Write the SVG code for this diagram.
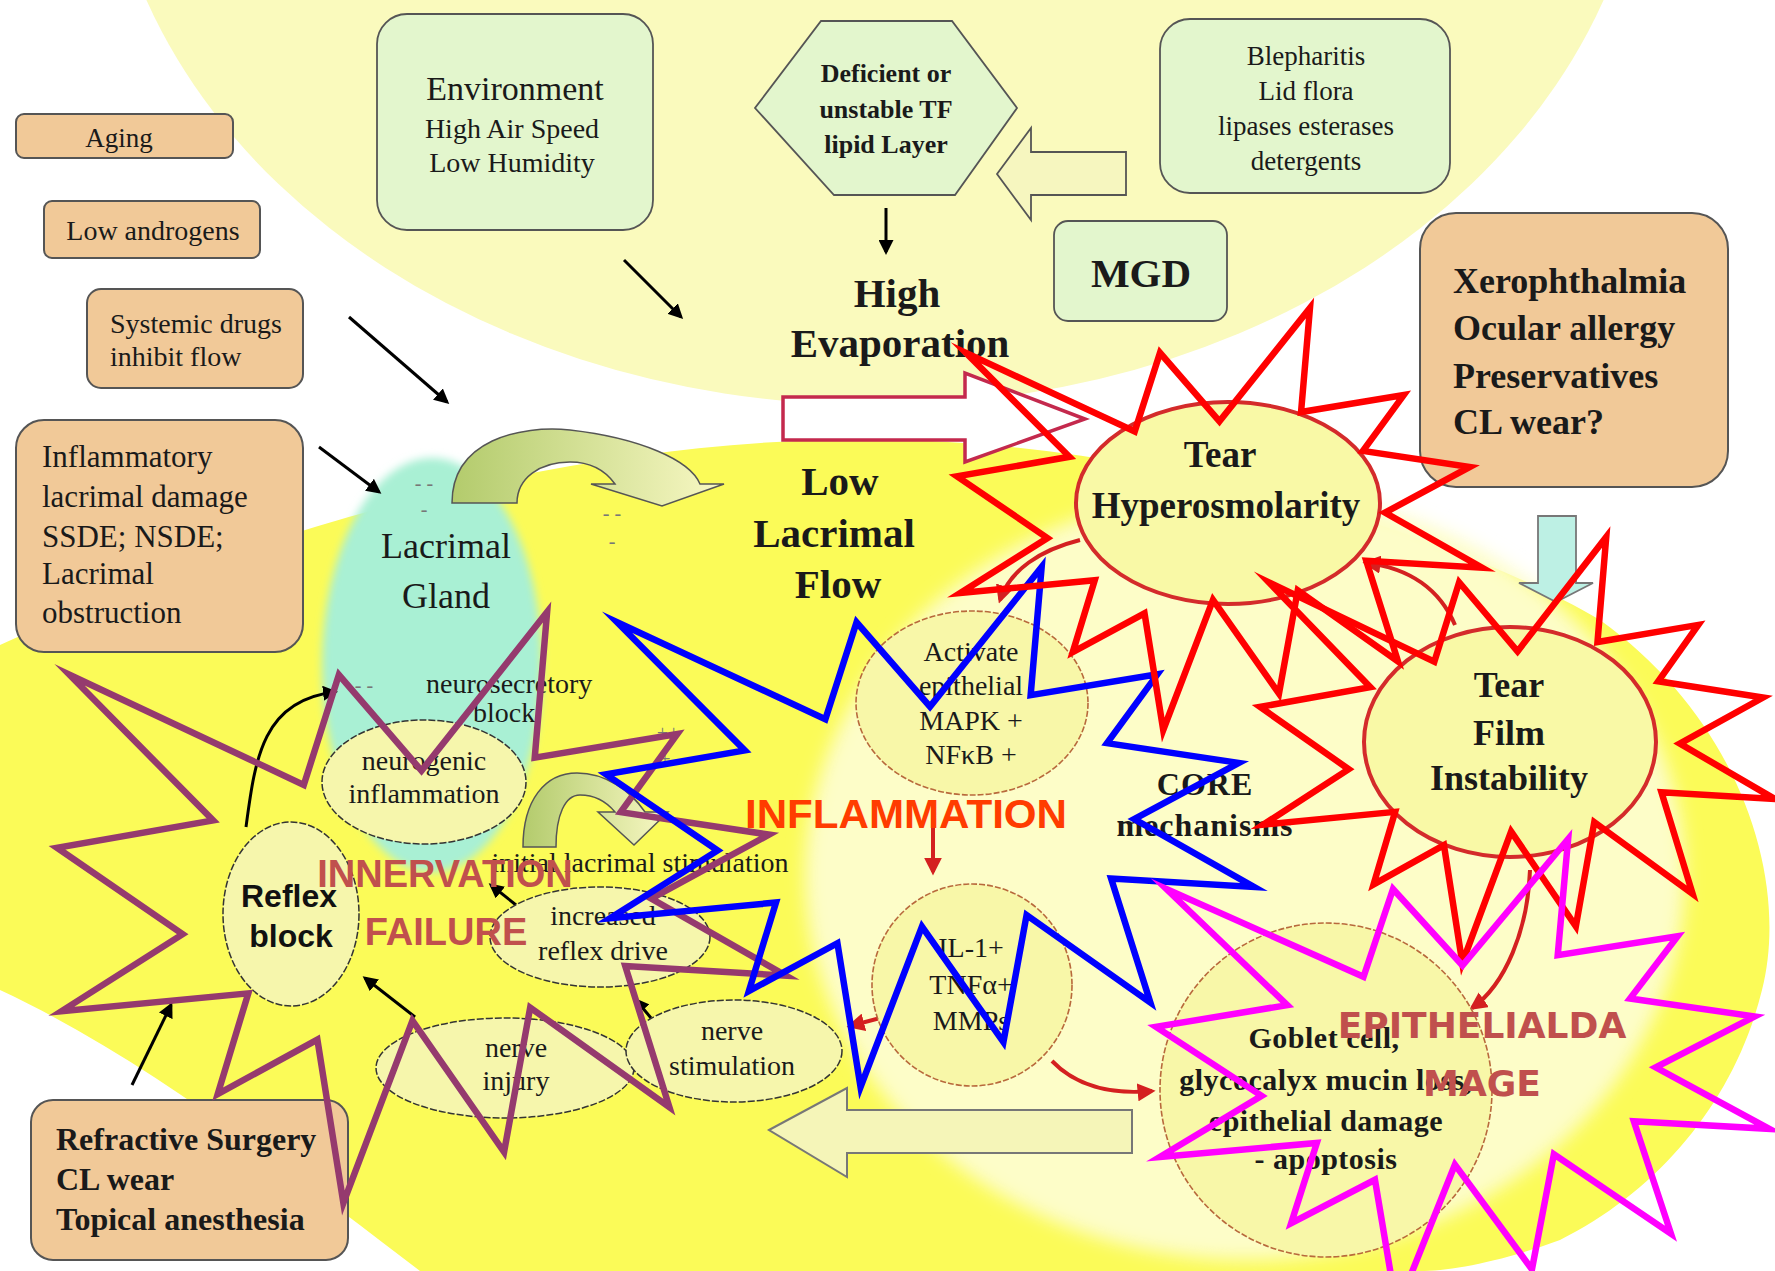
<svg xmlns="http://www.w3.org/2000/svg" xmlns:xlink="http://www.w3.org/1999/xlink" width="1775" height="1271" viewBox="0 0 1775 1271">
<style>
.serif{font-family:"Liberation Serif","Times New Roman",serif;fill:#1a1a1a}
.b{font-weight:bold}
.tan{fill:#f1c998;stroke:#555;stroke-width:2}
.grn{fill:#e3f6cd;stroke:#555;stroke-width:1.8}
.ell{fill:#f6f6ac;stroke:#333;stroke-width:1.5;stroke-dasharray:7 2}
.cell{fill:#f8f7a8;stroke:#b8693c;stroke-width:1.6;stroke-dasharray:6 2}
.tear{fill:#f9f9a6;stroke:#d42b2b;stroke-width:4}
.blk{stroke:#000;stroke-width:3;fill:none}
.red{stroke:#d42020;stroke-width:4;fill:none}
.star{fill:none;stroke-width:6.5;stroke-miterlimit:12;stroke-linejoin:miter}
.dash{font-family:"Liberation Serif",serif;font-size:20px;fill:#777}
.ovl{font-family:"Liberation Sans",Arial,sans-serif;font-weight:bold}
</style>
<defs>
<path id="seal" vector-effect="non-scaling-stroke" d="M10800,5800 L14522,0 L14155,5325 L18380,4457 L16702,7315 L21097,8137 L17607,10475 L21600,13290 L16837,12942 L18145,18095 L14020,14457 L13247,19737 L10532,14935 L8485,21600 L7715,15627 L4762,17617 L5667,13937 L135,14587 L3722,11775 L0,8615 L4627,7617 L370,2295 L7312,6320 L8352,2295 Z"/>
<marker id="ab" viewBox="0 0 10 10" refX="8" refY="5" markerWidth="5" markerHeight="5" orient="auto"><path d="M0,0 L10,5 L0,10 z" fill="#000"/></marker>
<marker id="ar" viewBox="0 0 10 10" refX="8" refY="5" markerWidth="4.5" markerHeight="4.5" orient="auto"><path d="M0,0 L10,5 L0,10 z" fill="#d42020"/></marker>
<linearGradient id="gg" x1="0" y1="0" x2="1" y2="0"><stop offset="0" stop-color="#b3cb6c"/><stop offset="1" stop-color="#f8f8c4"/></linearGradient>
<filter id="soft" x="-20%" y="-20%" width="140%" height="140%"><feGaussianBlur stdDeviation="9"/></filter>
<filter id="soft2" x="-20%" y="-20%" width="140%" height="140%"><feGaussianBlur stdDeviation="4"/></filter>
</defs>

<g id="background">
<rect width="1775" height="1271" fill="#ffffff"/>
<ellipse cx="875" cy="-200" rx="772" ry="605" fill="#fafabd"/>
<path d="M0,645 C200,555 500,450 820,440 C1100,430 1430,520 1600,620 C1740,720 1790,880 1762,990 C1735,1100 1660,1190 1560,1240 C1500,1262 1450,1271 1420,1271 L420,1271 C300,1180 150,1060 0,990 Z" fill="#fbfb58"/>
<ellipse cx="1245" cy="875" rx="440" ry="385" fill="#fdfdc8" filter="url(#soft)"/>
<ellipse cx="432" cy="665" rx="110" ry="207" fill="#a9f0d4" filter="url(#soft2)"/>
</g>

<g id="aging"><rect class="tan" x="16" y="114" width="217" height="44" rx="8"/><text class="serif" x="119" y="147" font-size="27" text-anchor="middle">Aging</text></g>
<g id="androgens"><rect class="tan" x="44" y="201" width="216" height="57" rx="8"/><text class="serif" x="153" y="240" font-size="28" text-anchor="middle">Low androgens</text></g>
<g id="systemic"><rect class="tan" x="87" y="289" width="216" height="99" rx="14"/><text class="serif" font-size="28"><tspan x="110" y="333">Systemic drugs</tspan><tspan x="110" y="366">inhibit flow</tspan></text></g>
<g id="inflammatory"><rect class="tan" x="16" y="420" width="287" height="232" rx="28"/><text class="serif" font-size="31"><tspan x="42" y="467">Inflammatory</tspan><tspan x="42" y="507">lacrimal damage</tspan><tspan x="42" y="547">SSDE; NSDE;</tspan><tspan x="42" y="584">Lacrimal</tspan><tspan x="42" y="623">obstruction</tspan></text></g>
<g id="environment"><rect class="grn" x="377" y="14" width="276" height="216" rx="30"/><text class="serif" x="515" y="100" font-size="34" text-anchor="middle">Environment</text><text class="serif" font-size="28" text-anchor="middle"><tspan x="512" y="138">High Air Speed</tspan><tspan x="512" y="172">Low Humidity</tspan></text></g>
<g id="lipid"><polygon class="grn" points="821,21 952,21 1017,108 955,195 834,195 755,108"/><text class="serif b" font-size="26" text-anchor="middle"><tspan x="886" y="82">Deficient or</tspan><tspan x="886" y="118">unstable TF</tspan><tspan x="886" y="153">lipid Layer</tspan></text></g>
<g id="blepharitis"><rect class="grn" x="1160" y="19" width="290" height="174" rx="30"/><text class="serif" font-size="27" text-anchor="middle"><tspan x="1306" y="65">Blepharitis</tspan><tspan x="1306" y="100">Lid flora</tspan><tspan x="1306" y="135">lipases esterases</tspan><tspan x="1306" y="170">detergents</tspan></text></g>
<g id="mgd"><rect class="grn" x="1054" y="221" width="173" height="100" rx="14"/><text class="serif b" x="1141" y="287" font-size="41" text-anchor="middle">MGD</text></g>
<g id="evaporation"><text class="serif b" font-size="41" text-anchor="middle"><tspan x="897" y="307">High</tspan><tspan x="900" y="357">Evaporation</tspan></text></g>
<g id="xerophthalmia"><rect class="tan" x="1420" y="213" width="308" height="274" rx="36"/><text class="serif b" font-size="36"><tspan x="1453" y="293">Xerophthalmia</tspan><tspan x="1453" y="340">Ocular allergy</tspan><tspan x="1453" y="388">Preservatives</tspan><tspan x="1453" y="434">CL wear?</tspan></text></g>
<g id="lacrimal-gland"><text class="serif" font-size="36" text-anchor="middle" fill="#222"><tspan x="446" y="558">Lacrimal</tspan><tspan x="446" y="608">Gland</tspan></text>
<text class="dash" x="424" y="490" text-anchor="middle">- -</text><text class="dash" x="424" y="516" text-anchor="middle">-</text>
<text class="dash" x="612" y="520" text-anchor="middle">- -</text><text class="dash" x="612" y="548" text-anchor="middle">-</text>
<text class="dash" x="364" y="692" text-anchor="middle">- -</text>
<text class="dash" x="668" y="740" text-anchor="middle">++</text><text class="dash" x="665" y="766" text-anchor="middle">+</text>
<text class="serif" font-size="28"><tspan x="426" y="693">neurosecretory</tspan><tspan x="473" y="722">block</tspan></text></g>
<g id="low-flow"><text class="serif b" font-size="41" text-anchor="middle"><tspan x="840" y="495">Low</tspan><tspan x="834" y="547">Lacrimal</tspan><tspan x="838" y="598">Flow</tspan></text></g>
<g id="core"><text class="serif b" font-size="32" text-anchor="middle" letter-spacing="1"><tspan x="1205" y="795">CORE</tspan><tspan x="1205" y="836">mechanisms</tspan></text></g>

<g id="connectors">
<path d="M452,503 C452,440 520,425 570,430 C640,438 690,460 700,484 L724,484 L662,506 L591,484 L615,484 C605,470 590,462 570,462 C540,462 517,478 517,503 Z" fill="url(#gg)" stroke="#555" stroke-width="1.5"/>
<path d="M523,847 C523,800 545,773 577,773 C605,773 630,790 645,812 L668,812 L634,845 L598,812 L615,812 C605,800 592,795 580,795 C565,795 556,815 556,847 Z" fill="url(#gg)" stroke="#555" stroke-width="1.5"/>
<polygon points="997,174 1031,128 1031,152 1126,152 1126,195 1031,195 1031,220" fill="#f6f6bf" stroke="#555" stroke-width="1.8"/>
<polygon points="783,397 965,397 965,373 1085,419 965,462 965,440 783,440" fill="#ffffff" stroke="#c4294d" stroke-width="3.5"/>
<polygon points="769,1130 847,1088 847,1110 1132,1110 1132,1153 847,1153 847,1177" fill="#f5f5b8" stroke="#777" stroke-width="2"/>
<polygon points="1538,516 1576,516 1576,583 1593,583 1556,602 1519,583 1538,583" fill="#bdf0e4" stroke="#777" stroke-width="1.8"/>
<line class="blk" x1="624" y1="260" x2="681" y2="317" marker-end="url(#ab)"/>
<line class="blk" x1="349" y1="317" x2="447" y2="402" marker-end="url(#ab)"/>
<line class="blk" x1="319" y1="447" x2="379" y2="492" marker-end="url(#ab)"/>
<line class="blk" x1="886" y1="208" x2="886" y2="252" marker-end="url(#ab)"/>
<line class="blk" x1="132" y1="1085" x2="171" y2="1005" marker-end="url(#ab)"/>
<line class="blk" x1="415" y1="1017" x2="365" y2="978" marker-end="url(#ab)"/>
<line class="blk" x1="651" y1="1018" x2="636" y2="1000" marker-end="url(#ab)"/>
<line class="blk" x1="516" y1="905" x2="491" y2="885" marker-end="url(#ab)"/>
<path class="blk" d="M246,827 C255,760 262,700 335,692" marker-end="url(#ab)"/>
<path class="red" d="M1080,540 C1040,550 1010,570 1000,600" marker-end="url(#ar)"/>
<line class="red" x1="933" y1="818" x2="933" y2="872" marker-end="url(#ar)"/>
<line class="red" x1="899" y1="1013" x2="850" y2="1026" marker-end="url(#ar)"/>
<path class="red" d="M1052,1061 C1075,1085 1110,1095 1152,1091" marker-end="url(#ar)"/>
<path class="red" stroke-width="6" d="M1455,625 C1440,590 1410,568 1366,563" marker-end="url(#ar)"/>
<path class="red" d="M1530,870 C1528,930 1505,985 1472,1008" marker-end="url(#ar)"/>
</g>

<g id="tear-hyperosmolarity"><ellipse class="tear" cx="1228" cy="503" rx="152" ry="101"/><text class="serif b" font-size="37" text-anchor="middle"><tspan x="1220" y="467">Tear</tspan><tspan x="1226" y="518">Hyperosmolarity</tspan></text></g>
<g id="tear-film"><ellipse class="tear" cx="1510" cy="742" rx="146" ry="115"/><text class="serif b" font-size="36" text-anchor="middle"><tspan x="1509" y="697">Tear</tspan><tspan x="1509" y="745">Film</tspan><tspan x="1509" y="790">Instability</tspan></text></g>
<g id="activate"><ellipse class="cell" cx="972" cy="703" rx="116" ry="92"/><text class="serif" font-size="28" text-anchor="middle"><tspan x="971" y="661">Activate</tspan><tspan x="971" y="695">epithelial</tspan><tspan x="971" y="730">MAPK +</tspan><tspan x="971" y="764">NFκB +</tspan></text></g>
<g id="cytokines"><ellipse class="cell" cx="972" cy="985" rx="100" ry="101"/><text class="serif" font-size="28" text-anchor="middle"><tspan x="971" y="957">IL-1+</tspan><tspan x="971" y="994">TNFα+</tspan><tspan x="971" y="1030">MMPs</tspan></text></g>
<g id="goblet"><ellipse class="cell" cx="1326" cy="1090" rx="166" ry="167"/><text class="serif b" font-size="30" text-anchor="middle" letter-spacing="0.5"><tspan x="1324" y="1048">Goblet cell,</tspan><tspan x="1326" y="1090">glycocalyx mucin loss,</tspan><tspan x="1326" y="1131">epithelial damage</tspan><tspan x="1326" y="1169">- apoptosis</tspan></text></g>
<g id="neurogenic"><ellipse class="ell" cx="424" cy="782" rx="102" ry="62"/><text class="serif" font-size="28" text-anchor="middle"><tspan x="424" y="770">neurogenic</tspan><tspan x="424" y="803">inflammation</tspan></text></g>
<g id="initial"><text class="serif" x="640" y="872" font-size="28" text-anchor="middle">initial lacrimal stimulation</text></g>
<g id="reflex-block"><ellipse class="ell" cx="291" cy="914" rx="68" ry="92" fill="#fafad2"/><text font-family="Liberation Sans,Arial,sans-serif" font-weight="bold" font-size="32" text-anchor="middle" fill="#111"><tspan x="289" y="907">Reflex</tspan><tspan x="291" y="947">block</tspan></text></g>
<g id="increased"><ellipse class="ell" cx="600" cy="937" rx="110" ry="50"/><text class="serif" font-size="28" text-anchor="middle"><tspan x="603" y="925">increased</tspan><tspan x="603" y="960">reflex drive</tspan></text></g>
<g id="nerve-injury"><ellipse class="ell" cx="505" cy="1068" rx="129" ry="50"/><text class="serif" font-size="28" text-anchor="middle"><tspan x="516" y="1057">nerve</tspan><tspan x="516" y="1090">injury</tspan></text></g>
<g id="nerve-stimulation"><ellipse class="ell" cx="734" cy="1051" rx="108" ry="51"/><text class="serif" font-size="28" text-anchor="middle"><tspan x="732" y="1040">nerve</tspan><tspan x="732" y="1075">stimulation</tspan></text></g>
<g id="refractive"><rect class="tan" x="31" y="1100" width="317" height="160" rx="22"/><text class="serif b" font-size="32"><tspan x="56" y="1150">Refractive Surgery</tspan><tspan x="56" y="1190">CL wear</tspan><tspan x="56" y="1230">Topical anesthesia</tspan></text></g>

<g id="stars">
<use href="#seal" class="star" stroke="#953a6e" transform="translate(57,612) scale(0.03375,0.027361)"/>
<use href="#seal" class="star" stroke="#0000ff" transform="translate(606,567) scale(0.03,0.024074)"/>
<use href="#seal" class="star" stroke="#ff0000" transform="translate(957,308) scale(0.024306,0.019537)"/>
<use href="#seal" class="star" stroke="#ff0000" transform="translate(1260,537) scale(0.023843,0.019722)"/>
<use href="#seal" class="star" stroke="#ff00ff" transform="translate(1156,839) scale(0.02838,0.021806)"/>
</g>

<g id="labels">
<text class="ovl" x="745" y="828" font-size="41" fill="#ff3c00" textLength="322" lengthAdjust="spacingAndGlyphs">INFLAMMATION</text>
<text class="ovl" font-size="38" fill="#c0504d" text-anchor="middle"><tspan x="445" y="887">INNERVATION</tspan><tspan x="446" y="945">FAILURE</tspan></text>
<text font-family="DejaVu Sans,sans-serif" font-weight="bold" font-size="36" fill="#c0504d" text-anchor="middle"><tspan x="1482" y="1038">EPITHELIALDA</tspan><tspan x="1482" y="1096">MAGE</tspan></text>
</g>
</svg>
